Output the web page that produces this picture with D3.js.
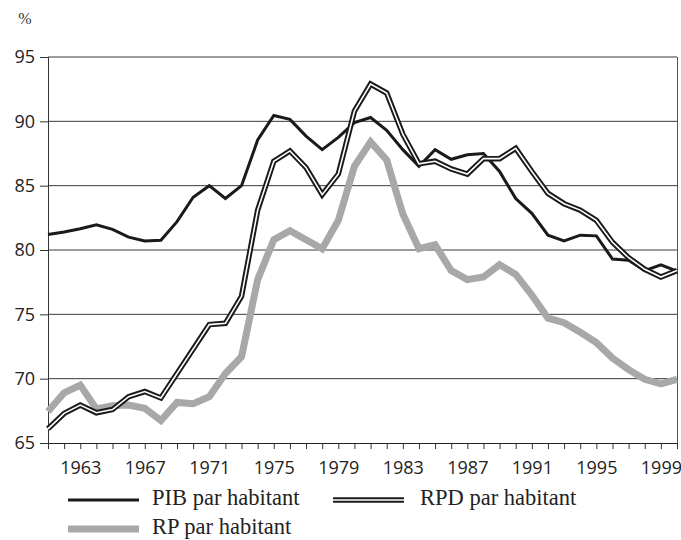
<!DOCTYPE html>
<html><head><meta charset="utf-8">
<script src="https://cdn.jsdelivr.net/npm/d3@7"></script>
<style>body{margin:0;background:#fff}</style>
</head><body><svg id="c" width="681" height="540"></svg>
<script>
const years = d3.range(1961, 2001);
const pib = [81.2,81.4,81.65,81.95,81.6,81.0,80.7,80.75,82.2,84.1,85.0,84.0,85.0,88.55,90.45,90.15,88.85,87.8,88.75,89.9,90.3,89.3,87.8,86.5,87.8,87.05,87.4,87.5,86.1,84.0,82.85,81.15,80.7,81.15,81.1,79.3,79.2,78.4,78.85,78.35];
const rpd = [66.1,67.3,67.95,67.35,67.6,68.6,69.0,68.5,70.4,72.3,74.2,74.3,76.4,83.1,86.9,87.7,86.4,84.3,85.9,90.8,92.9,92.2,89.0,86.7,86.9,86.3,85.9,87.1,87.1,87.9,86.1,84.4,83.6,83.1,82.3,80.6,79.4,78.5,77.9,78.4];
const rp = [67.45,68.9,69.5,67.65,67.9,67.95,67.7,66.75,68.15,68.05,68.6,70.4,71.7,77.7,80.8,81.5,80.8,80.1,82.3,86.5,88.4,87.0,82.8,80.1,80.4,78.4,77.7,77.9,78.85,78.1,76.5,74.7,74.35,73.6,72.8,71.6,70.7,69.95,69.6,69.95];
const yTicks = [65,70,75,80,85,90,95];
const xLabels = [1963,1967,1971,1975,1979,1983,1987,1991,1995,1999];
const seriesNames = ["PIB par habitant","RPD par habitant","RP par habitant"];

const svg = d3.select("#c");
const L=48, R=677, T=57, B=443;
const x = d3.scaleLinear().domain([1961,2000]).range([L,R]);
const y = d3.scaleLinear().domain([65,95]).range([B,T]);

svg.append("g").selectAll("line").data(yTicks.filter(d=>d>65)).join("line")
  .attr("x1",L).attr("x2",R).attr("y1",d=>y(d)).attr("y2",d=>y(d))
  .attr("stroke","#3a3a3a").attr("stroke-width",1);
svg.append("line").attr("x1",R+0.5).attr("x2",R+0.5).attr("y1",T).attr("y2",B).attr("stroke","#555").attr("stroke-width",1);

const ya = svg.append("g").attr("transform",`translate(${L},0)`)
  .call(d3.axisLeft(y).tickValues(yTicks).tickSize(8).tickPadding(5).tickFormat(d3.format("d")));
ya.select(".domain").attr("stroke","#333");
ya.selectAll(".tick line").attr("stroke","#333");
ya.selectAll("text").attr("font-family","'Open Sans', sans-serif").attr("font-size",18).attr("fill","#222");

const xa = svg.append("g").attr("transform",`translate(0,${B})`)
  .call(d3.axisBottom(x).tickValues(years).tickSize(6).tickPadding(12).tickFormat(d=>xLabels.includes(d)?d:""));
xa.select(".domain").attr("stroke","#222");
xa.selectAll(".tick line").attr("stroke","#333");
xa.selectAll("text").attr("font-family","'Open Sans', sans-serif").attr("font-size",18).attr("fill","#222");

const line = d3.line().x((d,i)=>x(years[i])).y(d=>y(d)).curve(d3.curveLinear);

svg.append("path").datum(rp).attr("d",line).attr("fill","none").attr("stroke","#a7a8aa").attr("stroke-width",7);
svg.append("path").datum(pib).attr("d",line).attr("fill","none").attr("stroke","#1a1a1a").attr("stroke-width",3);
svg.append("path").datum(rpd).attr("d",line).attr("fill","none").attr("stroke","#1a1a1a").attr("stroke-width",5.5);
svg.append("path").datum(rpd).attr("d",line).attr("fill","none").attr("stroke","#fff").attr("stroke-width",1.6);

svg.append("text").attr("x",25).attr("y",24).attr("text-anchor","middle")
  .attr("font-family","'Liberation Serif', serif").attr("font-size",16).attr("fill","#333").text("%");

const lg = svg.append("g").attr("font-family","'Liberation Serif', serif").attr("font-size",22.5).attr("fill","#222");
const items = [
  {name:seriesNames[0], x:68, y:500, tx:152, type:"pib"},
  {name:seriesNames[1], x:333, y:500, tx:420, type:"rpd"},
  {name:seriesNames[2], x:68, y:529, tx:152, type:"rp"}
];
items.forEach(it=>{
  if(it.type==="pib"){
    lg.append("line").attr("x1",it.x).attr("x2",it.x+71).attr("y1",it.y).attr("y2",it.y).attr("stroke","#1a1a1a").attr("stroke-width",3);
  } else if(it.type==="rpd"){
    lg.append("line").attr("x1",it.x).attr("x2",it.x+71).attr("y1",it.y).attr("y2",it.y).attr("stroke","#1a1a1a").attr("stroke-width",5.5);
    lg.append("line").attr("x1",it.x).attr("x2",it.x+71).attr("y1",it.y).attr("y2",it.y).attr("stroke","#fff").attr("stroke-width",1.6);
  } else {
    lg.append("line").attr("x1",it.x).attr("x2",it.x+71).attr("y1",it.y).attr("y2",it.y).attr("stroke","#a7a8aa").attr("stroke-width",7);
  }
  lg.append("text").attr("x",it.tx).attr("y",it.y+5).text(it.name);
});
</script></body></html>
